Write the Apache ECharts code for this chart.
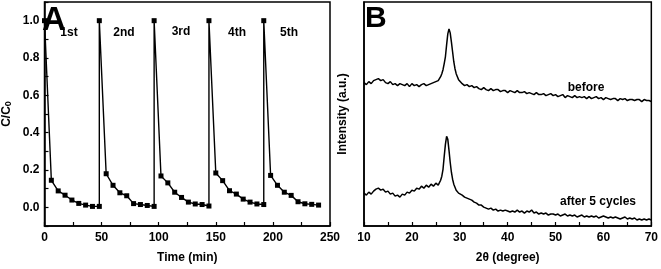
<!DOCTYPE html>
<html>
<head>
<meta charset="utf-8">
<script src="https://cdn.jsdelivr.net/npm/echarts@6/dist/echarts.min.js"></script>
<style>
html,body{margin:0;padding:0;background:#fff;}
#c{width:661px;height:269px;}
</style>
</head>
<body>
<div id="c"></div>
<script>
// ---- Panel A: photocatalytic cycles (C/C0 vs time) ----
var timeMin = [0, 6, 12, 18, 24, 30, 36, 42, 48,
  48, 54, 60, 66, 72, 78, 84, 90, 96,
  96, 102, 108, 114, 120, 126, 132, 138, 144,
  144, 150, 156, 162, 168, 174, 180, 186, 192,
  192, 198, 204, 210, 216, 222, 228, 234, 240];
var ratioCC0 = [1.0, 0.145, 0.088, 0.065, 0.039, 0.021, 0.012, 0.005, 0.005,
  1.0, 0.180, 0.118, 0.078, 0.062, 0.020, 0.015, 0.010, 0.005,
  1.0, 0.168, 0.131, 0.081, 0.053, 0.028, 0.018, 0.015, 0.007,
  1.0, 0.184, 0.143, 0.089, 0.071, 0.044, 0.028, 0.018, 0.015,
  1.0, 0.171, 0.118, 0.081, 0.064, 0.030, 0.019, 0.016, 0.012];
var cycleLabels = ['1st', '2nd', '3rd', '4th', '5th'];
var xTicksA = [0, 50, 100, 150, 200, 250];
var yTicksA = [0.0, 0.2, 0.4, 0.6, 0.8, 1.0];

// ---- Panel B: XRD patterns ----
var twoTheta = [
  10, 10.5, 11, 11.5, 12, 12.5, 13, 13.5, 14, 14.5,
  15, 15.5, 16, 16.5, 17, 17.5, 18, 18.5, 19, 19.5,
  20, 20.5, 21, 21.5, 22, 22.5, 23, 23.5, 24, 24.5,
  25, 25.5,
  26, 26.25, 26.5, 26.75, 27, 27.25, 27.5, 27.75, 28, 28.25,
  28.5, 28.75, 29, 29.25, 29.5, 29.75, 30,
  30.5, 31, 31.5, 32, 32.5, 33, 33.5, 34, 34.5, 35,
  35.5, 36, 36.5, 37, 37.5, 38, 38.5, 39, 39.5, 40,
  40.5, 41, 41.5, 42, 42.5, 43, 43.5, 44, 44.5, 45,
  45.5, 46, 46.5, 47, 47.5, 48, 48.5, 49, 49.5, 50,
  50.5, 51, 51.5, 52, 52.5, 53, 53.5, 54, 54.5, 55,
  55.5, 56, 56.5, 57, 57.5, 58, 58.5, 59, 59.5, 60,
  60.5, 61, 61.5, 62, 62.5, 63, 63.5, 64, 64.5, 65,
  65.5, 66, 66.5, 67, 67.5, 68, 68.5, 69, 69.5, 70];
var beforeInt = [
  144, 142, 145, 143, 146, 147, 148, 146, 147, 144,
  143, 145, 142, 143, 141, 143, 142, 141, 143, 140,
  143, 141, 142, 140, 142, 143, 141, 142, 143, 144,
  145, 146,
  150, 153, 157, 163, 170, 182, 193, 198, 194, 185,
  175, 165, 158, 153, 150, 147, 145,
  143, 141, 142, 140, 141, 139, 140, 138, 137, 139,
  137, 136, 138, 136, 137, 137, 135, 136, 136, 134,
  136, 135, 134, 136, 134, 134, 135, 133, 134, 133,
  132, 134, 132, 132, 133, 131, 132, 133, 131, 132,
  130, 131, 132, 129, 131, 130, 129, 131, 129, 130,
  129, 130, 128, 130, 128, 129, 130, 128, 129, 127,
  129, 128, 127, 128, 128, 126, 128, 127, 128, 126,
  127, 127, 126, 127, 127, 125, 127, 126, 126, 125];
var afterInt = [
  33, 31, 34, 32, 35, 37, 38, 36, 37, 34,
  35, 32, 33, 30, 31, 29, 32, 31, 34, 33,
  36, 35, 38, 37, 40, 38, 41, 39, 42, 40,
  43, 41,
  46, 50, 57, 70, 82, 90, 87, 76, 64, 54,
  47, 42, 39, 36, 35, 33, 32,
  31, 29, 28, 27, 26, 24, 23, 21, 21, 19,
  18, 17, 18, 16, 17, 15, 16, 15, 16, 15,
  14, 15, 14, 16, 14, 15, 13, 15, 14, 16,
  13, 14, 12, 13, 12, 13, 11, 12, 12, 11,
  12, 10, 11, 12, 10, 11, 10, 11, 9, 10,
  11, 9, 10, 9, 10, 9, 10, 8, 9, 10,
  9, 8, 9, 8, 9, 8, 7, 8, 9, 7,
  8, 7, 8, 6, 7, 6, 7, 6, 7, 6];
var xTicksB = [10, 20, 30, 40, 50, 60, 70];

function pairs(xs, ys) { return xs.map(function (x, i) { return [x, ys[i]]; }); }

var FONT = '"Liberation Sans", Arial, sans-serif';
var black = '#000';
var tickLabel = { color: black, fontFamily: FONT, fontWeight: 'bold', fontSize: 12 };

function inList(list, v) {
  for (var i = 0; i < list.length; i++) if (Math.abs(list[i] - v) < 1e-6) return true;
  return false;
}

var chart = echarts.init(document.getElementById('c'), null, { renderer: 'canvas' });

function txt(x, y, s) {
  return { type: 'text', x: x, y: y, z: 100,
    style: { text: s, fill: black, font: 'bold 12px ' + FONT, textAlign: 'center', textVerticalAlign: 'middle' } };
}

var option = {
  backgroundColor: '#fff',
  animation: false,
  grid: [
    { left: 40, top: 2, width: 290, height: 225, show: true, borderColor: black, borderWidth: 1.5, backgroundColor: 'transparent' },
    { left: 364, top: 2, width: 288, height: 225, show: true, borderColor: black, borderWidth: 1.5, backgroundColor: 'transparent' }
  ],
  xAxis: [
    {
      gridIndex: 0, type: 'value', min: 0, max: 250, interval: 25,
      name: 'Time (min)', nameLocation: 'middle', nameGap: 26,
      nameTextStyle: { color: black, fontFamily: FONT, fontWeight: 'bold', fontSize: 12 },
      axisLine: { onZero: false, lineStyle: { color: black, width: 1.5 } },
      axisTick: { inside: true, length: 4, lineStyle: { color: black, width: 1.2 } },
      splitLine: { show: false },
      axisLabel: Object.assign({ margin: 6, showMinLabel: true, showMaxLabel: true,
        formatter: function (v) { return inList(xTicksA, v) ? String(v) : ''; } }, tickLabel)
    },
    {
      gridIndex: 1, type: 'value', min: 10, max: 70, interval: 5,
      name: '2θ (degree)', nameLocation: 'middle', nameGap: 26,
      nameTextStyle: { color: black, fontFamily: FONT, fontWeight: 'bold', fontSize: 12 },
      axisLine: { onZero: false, lineStyle: { color: black, width: 1.5 } },
      axisTick: { inside: true, length: 4, lineStyle: { color: black, width: 1.2 } },
      splitLine: { show: false },
      axisLabel: Object.assign({ margin: 6, showMinLabel: true, showMaxLabel: true,
        formatter: function (v) { return inList(xTicksB, v) ? String(v) : ''; } }, tickLabel)
    }
  ],
  yAxis: [
    {
      gridIndex: 0, type: 'value', min: -0.1, max: 1.1, interval: 0.1,
      name: 'C/C{sub|0}', nameLocation: 'middle', nameGap: 31, nameRotate: 90,
      nameTextStyle: { color: black, fontFamily: FONT, fontWeight: 'bold', fontSize: 12,
        rich: { sub: { fontFamily: FONT, fontWeight: 'bold', fontSize: 9, verticalAlign: 'bottom', padding: [4, 0, 0, 0] } } },
      axisLine: { onZero: false, lineStyle: { color: black, width: 1.5 } },
      axisTick: { inside: true, length: 4, lineStyle: { color: black, width: 1.2 } },
      splitLine: { show: false },
      axisLabel: Object.assign({ margin: 5,
        formatter: function (v) { return inList(yTicksA, v) ? v.toFixed(1) : ''; } }, tickLabel)
    },
    {
      gridIndex: 1, type: 'value', min: 0, max: 225,
      name: 'Intensity (a.u.)', nameLocation: 'middle', nameGap: 15, nameRotate: 90,
      nameTextStyle: { color: black, fontFamily: FONT, fontWeight: 'bold', fontSize: 12 },
      axisLine: { onZero: false, lineStyle: { color: black, width: 1.5 } },
      axisTick: { show: false },
      splitLine: { show: false },
      axisLabel: { show: false }
    }
  ],
  series: [
    {
      type: 'line', xAxisIndex: 0, yAxisIndex: 0,
      data: pairs(timeMin, ratioCC0),
      symbol: 'rect', symbolSize: 5, showAllSymbol: true,
      lineStyle: { color: black, width: 1.4 },
      itemStyle: { color: black }
    },
    {
      type: 'line', xAxisIndex: 1, yAxisIndex: 1,
      data: pairs(twoTheta, beforeInt),
      symbol: 'none', lineStyle: { color: black, width: 1.5 }
    },
    {
      type: 'line', xAxisIndex: 1, yAxisIndex: 1,
      data: pairs(twoTheta, afterInt),
      symbol: 'none', lineStyle: { color: black, width: 1.5 }
    }
  ],
  graphic: [
    { type: 'text', left: 42, top: 4, z: 100, style: { text: 'A', fill: black, font: 'bold 33px ' + FONT } },
    { type: 'text', left: 365, top: 4, z: 100, style: { text: 'B', fill: black, font: 'bold 30px ' + FONT } },
    txt(69, 33, cycleLabels[0]),
    txt(124, 33, cycleLabels[1]),
    txt(181, 32, cycleLabels[2]),
    txt(237, 33, cycleLabels[3]),
    txt(289, 33, cycleLabels[4]),
    txt(586, 88, 'before'),
    txt(598, 202, 'after 5 cycles')
  ]
};
chart.setOption(option);
</script>
</body>
</html>
